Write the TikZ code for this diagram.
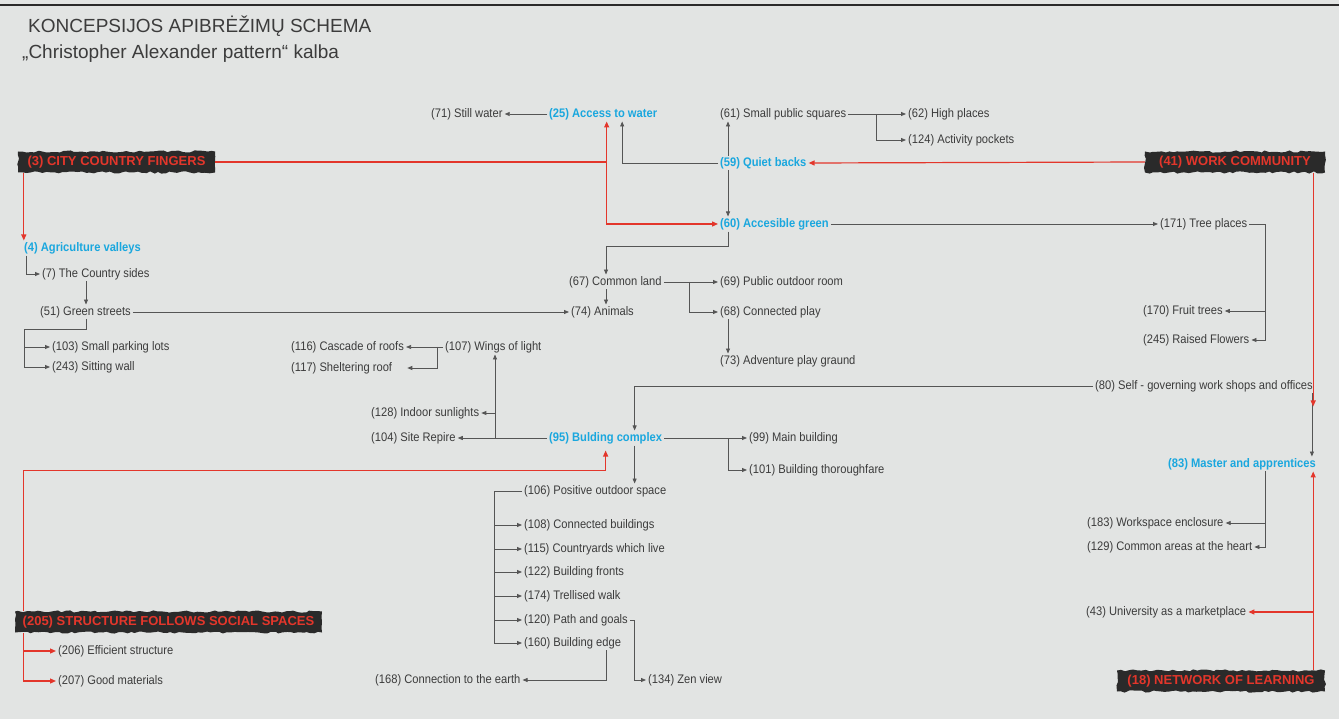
\documentclass[tikz,border=0pt]{standalone}
\usepackage{fontspec}
\setmainfont{Liberation Sans}[FakeStretch=0.9]
\newfontfamily\widefont{Liberation Sans}
\usepackage{tikz}
\usetikzlibrary{arrows.meta,decorations.pathmorphing}
\definecolor{paper}{HTML}{E2E4E3}
\definecolor{ink}{HTML}{3C3C3C}
\definecolor{wire}{HTML}{555555}
\definecolor{keycyan}{HTML}{1AA7DE}
\definecolor{keyred}{HTML}{E3362B}
\definecolor{brush}{HTML}{2A2A2A}
\newcommand{\PK}[0]{keycyan}
\newcommand{\PR}[0]{keyred}

\tikzset{
  pat/.style={anchor=west, inner xsep=2pt, inner ysep=1.5pt, text=ink,
    font=\fontsize{12.4}{14}\selectfont},
  key/.style={pat, text=\PK, font=\fontsize{12.4}{14}\selectfont\bfseries},
  bar/.style={fill=brush, text=\PR, minimum height=21pt, inner xsep=2pt,
    font=\widefont\fontsize{13}{15}\selectfont\bfseries,
    decorate, decoration={random steps, segment length=4pt, amplitude=1.1pt}},
  plain/.style={draw=wire, line width=0.75pt},
  link/.style={plain, -{Triangle[length=5pt,width=4pt]}},
  redplain/.style={draw=\PR, line width=1.2pt},
  redlink/.style={redplain, -{Triangle[length=6pt,width=5pt]}},
}

\begin{document}
\begin{tikzpicture}[x=1pt,y=-1pt]

  \pgfmathsetseed{7}
  \useasboundingbox (0,0) rectangle (1339,719);
  \fill[paper] (0,0) rectangle (1339,719);
  \draw[brush, line width=1.2pt] (0,5) -- (1339,5);

  %% title
  \node[anchor=base west, inner sep=0, text=ink,
    font=\widefont\fontsize{19}{22}\selectfont] (title) at (28,33)
    {KONCEPSIJOS APIBRĖŽIMŲ SCHEMA};
  \node[anchor=base west, inner sep=0, text=ink,
    font=\widefont\fontsize{19}{22}\selectfont] (subtitle) at (22,59)
    {„Christopher Alexander pattern“ kalba};

  %% main patterns
  \node[bar, minimum width=197pt] (fingers) at (116.5,162) {(3) CITY COUNTRY FINGERS};
  \node[bar, minimum width=180pt] (work) at (1235,162) {(41) WORK COMMUNITY};
  \node[bar, minimum width=307pt] (structure) at (168.5,622) {(205) STRUCTURE FOLLOWS SOCIAL SPACES};
  \node[bar, minimum width=208pt] (network) at (1221,681) {(18) NETWORK OF LEARNING};

  %% key patterns
  \node[key] (access) at (547,114) {(25) Access to water};
  \node[key] (quiet) at (718,163) {(59) Quiet backs};
  \node[key] (green) at (718,224) {(60) Accesible green};
  \node[key] (agri) at (22,248) {(4) Agriculture valleys};
  \node[key] (complex) at (547,438) {(95) Bulding complex};
  \node[key] (master) at (1166,464) {(83) Master and apprentices};

  %% top
  \node[pat] (still) at (429,114) {(71) Still water};
  \node[pat] (squares) at (718,114) {(61) Small public squares};
  \node[pat] (high) at (906,114) {(62) High places};
  \node[pat] (pockets) at (906,140) {(124) Activity pockets};
  \node[pat] (tree) at (1158,224) {(171) Tree places};
  \node[pat] (fruit) at (1141,311) {(170) Fruit trees};
  \node[pat] (flowers) at (1141,340) {(245) Raised Flowers};

  %% left
  \node[pat] (sides) at (40,274) {(7) The Country sides};
  \node[pat] (streets) at (38,312) {(51) Green streets};
  \node[pat] (parking) at (50,347) {(103) Small parking lots};
  \node[pat] (wall) at (50,367) {(243) Sitting wall};

  %% middle
  \node[pat] (common) at (567,282) {(67) Common land};
  \node[pat] (animals) at (569,312) {(74) Animals};
  \node[pat] (outdoor) at (718,282) {(69) Public outdoor room};
  \node[pat] (play) at (718,312) {(68) Connected play};
  \node[pat] (adventure) at (718,361) {(73) Adventure play graund};
  \node[pat] (cascade) at (289,347) {(116) Cascade of roofs};
  \node[pat] (shelter) at (289,368) {(117) Sheltering roof};
  \node[pat] (wings) at (443,347) {(107) Wings of light};
  \node[pat] (indoor) at (369,413) {(128) Indoor sunlights};
  \node[pat] (repire) at (369,438) {(104) Site Repire};
  \node[pat] (mainb) at (747,438) {(99) Main building};
  \node[pat] (thorough) at (747,470) {(101) Building thoroughfare};

  %% building list
  \node[pat] (positive) at (522,491) {(106) Positive outdoor space};
  \node[pat] (connb) at (522,525) {(108) Connected buildings};
  \node[pat] (yards) at (522,549) {(115) Countryards which live};
  \node[pat] (fronts) at (522,572) {(122) Building fronts};
  \node[pat] (trellis) at (522,596) {(174) Trellised walk};
  \node[pat] (goals) at (522,620) {(120) Path and goals};
  \node[pat] (edge) at (522,643) {(160) Building edge};
  \node[pat] (earth) at (373,680) {(168) Connection to the earth};
  \node[pat] (zen) at (646,680) {(134) Zen view};

  %% right and bottom
  \node[pat] (selfgov) at (1093,386) {(80) Self - governing work shops and offices};
  \node[pat] (workspace) at (1085,523) {(183) Workspace enclosure};
  \node[pat] (heart) at (1085,547) {(129) Common areas at the heart};
  \node[pat] (univ) at (1084,612) {(43) University as a marketplace};
  \node[pat] (efficient) at (56,651) {(206) Efficient structure};
  \node[pat] (materials) at (56,681) {(207) Good materials};

  %% gray links
  \draw[link] (access.west) -- (still.east);
  \draw[link] (quiet.west) -| ([xshift=19pt]access.south);
  \draw[link] ([xshift=10pt]quiet.north west) -- ([xshift=10pt]squares.south west);
  \draw[link] ([xshift=10pt]quiet.south west) -- ([xshift=10pt]green.north west);
  \draw[link] (squares.east) -- (high.west);
  \draw[link] ([xshift=28pt]squares.east) |- (pockets.west);
  \draw[link] (green.east) -- (tree.west);
  \draw[link] (tree.east) -- ++(16,0) |- (flowers.east);
  \draw[link] ([xshift=16pt]tree.east |- fruit.east) -- (fruit.east);
  \draw[link] ([xshift=10pt]green.south west) -- ++(0,15)
    -| ([xshift=39pt]common.north west);
  \draw[link] ([xshift=39pt]common.south west) -- ([xshift=37pt]animals.north west);
  \draw[link] (common.east) -- (outdoor.west);
  \draw[link] ([xshift=26pt]common.east) |- (play.west);
  \draw[link] ([xshift=10pt]play.south west) -- ([xshift=10pt]adventure.north west);

  \draw[link] ([xshift=4pt]agri.south west) |- (sides.west);
  \draw[link] ([xshift=46pt]sides.south west) -- ([xshift=48pt]streets.north west);
  \draw[link] (streets.east) -- (animals.west);
  \draw[link] ([xshift=48pt]streets.south west) -- ++(0,10)
    -| ([xshift=-26pt]wall.west) -- (wall.west);
  \draw[link] ([xshift=-26pt]parking.west) -- (parking.west);

  \draw[link] (wings.west) -- (cascade.east);
  \draw[link] ([xshift=-6pt]wings.west) |- ([xshift=13pt]shelter.east);
  \draw[link] (complex.west) -- (repire.east);
  \draw[link] ([xshift=52pt]wings.south west |- complex.west) -- ([xshift=52pt]wings.south west);
  \draw[link] ([xshift=52pt]wings.south west |- indoor.east) -- (indoor.east);
  \draw[link] (selfgov.west) -| ([xshift=29pt]complex.north);
  \draw[link] (complex.east) -- (mainb.west);
  \draw[link] ([xshift=64pt]complex.east) |- (thorough.west);
  \draw[link] ([xshift=29pt]complex.south) -- ([xshift=29pt]complex.south |- positive.north);

  \draw[link] (positive.west) -| ([xshift=-28pt]edge.west) -- (edge.west);
  \foreach \n in {connb,yards,fronts,trellis,goals}
    \draw[link] ([xshift=-28pt]\n.west) -- (\n.west);
  \draw[link] (goals.east) -- ++(4,0) |- (zen.west);
  \draw[link] ([xshift=84pt]edge.south west) |- (earth.east);

  \draw[link] ([xshift=-3pt]selfgov.south east) -- ([xshift=-3pt]selfgov.south east |- master.north);
  \draw[link] ([xshift=99pt]master.south west) |- (heart.east);
  \draw[link] ([xshift=99pt]master.south west |- workspace.east) -- (workspace.east);

  %% red links
  \draw[redlink] (fingers.east) -| ([xshift=3.5pt]access.south);
  \draw[redlink] ([xshift=3.5pt]access.south |- fingers.east) |- (green.west);
  \draw[redlink] ([xshift=6pt]fingers.south west) -- ([xshift=6pt]fingers.south west |- agri.north);
  \draw[redlink] (work.west) -- (quiet.east);
  \draw[redlink] ([xshift=-12pt]work.south east)
    -- ([xshift=-12pt,yshift=-13pt]work.south east |- selfgov.south);
  \draw[redlink] ([xshift=-12pt]network.north east) -- ([xshift=-12pt]network.north east |- master.south);
  \draw[redlink] ([xshift=-12pt]network.north east |- univ.east) -- (univ.east);
  \draw[redplain] ([xshift=9pt]structure.north west) |- ([yshift=-25pt]complex.south);
  \draw[redlink] ([yshift=-25pt]complex.south) -- ([yshift=-5pt]complex.south);
  \draw[redlink] ([xshift=9pt]structure.south west) |- (materials.west);
  \draw[redlink] ([xshift=9pt]structure.south west |- efficient.west) -- (efficient.west);

\end{tikzpicture}
\end{document}
